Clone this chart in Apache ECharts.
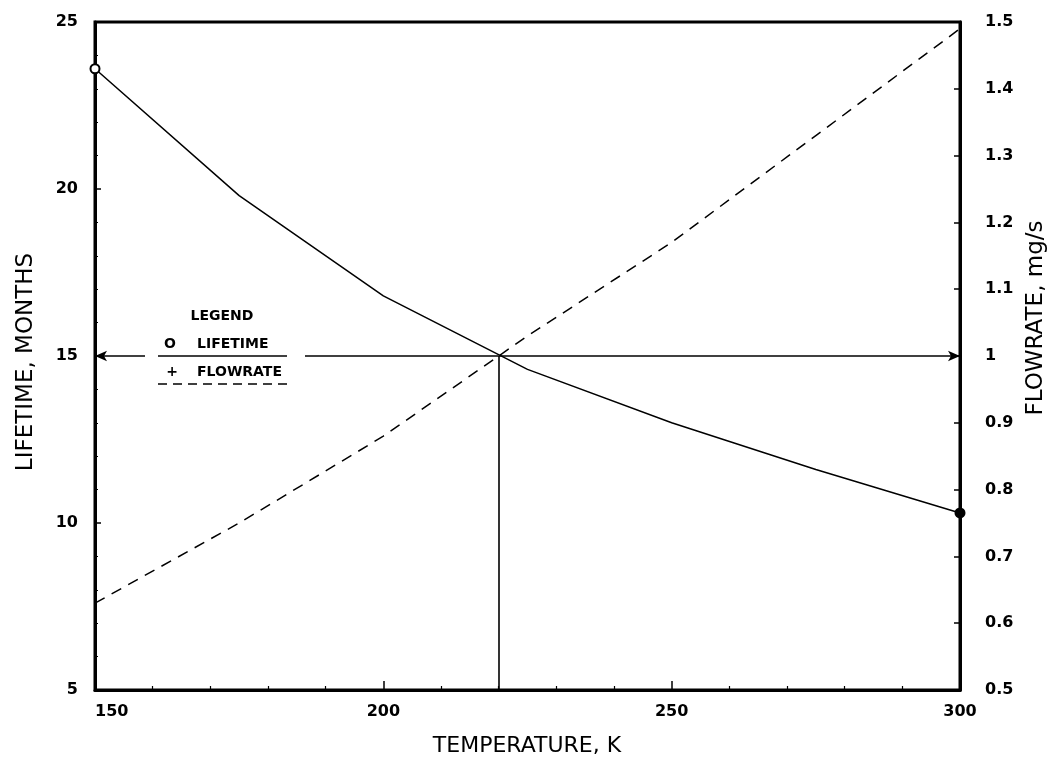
<!DOCTYPE html>
<html><head><meta charset="utf-8">
<script src="https://cdn.jsdelivr.net/npm/echarts/dist/echarts.min.js"></script>
<style>html,body{margin:0;padding:0;background:#fff}#c{width:1051px;height:760px}</style>
</head><body><div id="c"></div>
<script>
// ---- data ----
const temperature = [150, 175, 200, 225, 250, 275, 300];
const lifetime    = [23.6, 19.8, 16.8, 14.6, 13.0, 11.6, 10.3];
const flowrate    = [0.63, 0.75, 0.88, 1.03, 1.17, 1.33, 1.49];
const xTickLabels = [150, 200, 250, 300];
const leftTickLabels = [5, 10, 15, 20, 25];
const rightTickLabels = ['0.5','0.6','0.7','0.8','0.9','1','1.1','1.2','1.3','1.4','1.5'];
const designTemp = 220, designLife = 15, designFlow = 1.0;

const chart = echarts.init(document.getElementById('c'), null, {renderer: 'canvas'});
const labelFont = {fontFamily: '"DejaVu Sans", sans-serif', fontWeight: 'bold', fontSize: 16, color: '#000'};

const lifeData = temperature.map((t, i) => {
  const it = {value: [t, lifetime[i]]};
  if (i === 0) { it.symbol = 'circle'; it.symbolSize = 9; it.itemStyle = {color: '#fff', borderColor: '#000', borderWidth: 2}; }
  else if (i === temperature.length - 1) { it.symbol = 'circle'; it.symbolSize = 11; it.itemStyle = {color: '#000'}; }
  else { it.symbol = 'none'; }
  return it;
});

chart.setOption({
  animation: false,
  backgroundColor: '#fff',
  grid: {left: 95, right: 91, top: 22, bottom: 70, show: true, borderColor: '#000', borderWidth: 3, backgroundColor: 'transparent'},
  xAxis: {
    type: 'value', min: 150, max: 300, interval: 50,
    axisLine: {lineStyle: {color: '#000', width: 3}},
    axisTick: {inside: true, length: 9, lineStyle: {color: '#000', width: 1.5}},
    minorTick: {show: true, splitNumber: 5, length: 4, lineStyle: {color: '#000', width: 1.2}},
    splitLine: {show: false},
    axisLabel: Object.assign({margin: 14, alignMinLabel: 'left',
      formatter: v => xTickLabels.includes(v) ? String(v) : ''}, labelFont)
  },
  yAxis: [{
    type: 'value', min: 5, max: 25, interval: 5, position: 'left',
    axisLine: {lineStyle: {color: '#000', width: 3}},
    axisTick: {inside: true, length: 6, lineStyle: {color: '#000', width: 1.5}},
    minorTick: {show: true, splitNumber: 5, length: 3, lineStyle: {color: '#000', width: 1}},
    splitLine: {show: false},
    axisLabel: Object.assign({margin: 17,
      formatter: v => leftTickLabels.includes(v) ? String(v) : ''}, labelFont)
  }, {
    type: 'value', min: 0.5, max: 1.5, interval: 0.1, position: 'right',
    axisLine: {lineStyle: {color: '#000', width: 3}},
    axisTick: {inside: true, length: 6, lineStyle: {color: '#000', width: 1.5}},
    splitLine: {show: false},
    axisLabel: Object.assign({margin: 25, align: 'left',
      formatter: v => { const s = String(Math.round(v * 10) / 10); return rightTickLabels.includes(s) ? s : ''; }}, labelFont)
  }],
  series: [{
    name: 'LIFETIME', type: 'line', yAxisIndex: 0, silent: true,
    showSymbol: true, symbol: 'none',
    data: lifeData,
    lineStyle: {color: '#000', width: 1.5},
    z: 5,
    markLine: {
      silent: true, symbol: ['none', 'arrow'], symbolSize: [8, 12],
      label: {show: false},
      lineStyle: {color: '#000', width: 1.6, type: 'solid'},
      data: [
        [{coord: [designTemp, designLife]}, {coord: [150, designLife]}],
        [{coord: [designTemp, designLife]}, {coord: [300, designLife]}],
        [{coord: [designTemp, designLife]}, {coord: [designTemp, 5], symbol: 'none'}]
      ]
    }
  }, {
    name: 'FLOWRATE', type: 'line', yAxisIndex: 1, silent: true,
    symbol: 'none',
    data: temperature.map((t, i) => [t, flowrate[i]]),
    lineStyle: {color: '#000', width: 1.5, type: [11, 8]},
    z: 4
  }]
});

const p = chart.convertToPixel({xAxisIndex: 0, yAxisIndex: 0}, [designTemp, designLife]);
const y15 = p[1];
const legFont = 'bold 14px "DejaVu Sans", sans-serif';
const titleFont = '23px "DejaVu Sans", sans-serif';
chart.setOption({
  graphic: [
    {type: 'rect', z: 100, shape: {x: 145, y: y15 - 5, width: 160, height: 10}, style: {fill: '#fff'}},
    {type: 'line', z: 101, shape: {x1: 158, y1: y15, x2: 287, y2: y15}, style: {stroke: '#000', lineWidth: 1.5}},
    {type: 'line', z: 101, shape: {x1: 158, y1: y15 + 28, x2: 287, y2: y15 + 28}, style: {stroke: '#000', lineWidth: 1.5, lineDash: [9, 6]}},
    {type: 'text', z: 101, x: 222, y: y15 - 40, style: {text: 'LEGEND', font: legFont, fill: '#000', align: 'center', verticalAlign: 'middle'}},
    {type: 'text', z: 101, x: 170, y: y15 - 12, style: {text: 'O', font: legFont, fill: '#000', align: 'center', verticalAlign: 'middle'}},
    {type: 'text', z: 101, x: 197, y: y15 - 12, style: {text: 'LIFETIME', font: legFont, fill: '#000', align: 'left', verticalAlign: 'middle'}},
    {type: 'text', z: 101, x: 172, y: y15 + 16, style: {text: '+', font: legFont, fill: '#000', align: 'center', verticalAlign: 'middle'}},
    {type: 'text', z: 101, x: 197, y: y15 + 16, style: {text: 'FLOWRATE', font: legFont, fill: '#000', align: 'left', verticalAlign: 'middle'}},
    {type: 'text', z: 101, x: 527, y: 746, style: {text: 'TEMPERATURE, K', font: '22px "DejaVu Sans", sans-serif', fill: '#000', align: 'center', verticalAlign: 'middle'}},
    {type: 'text', z: 101, x: 26, y: 362, rotation: Math.PI / 2, style: {text: 'LIFETIME, MONTHS', font: titleFont, fill: '#000', align: 'center', verticalAlign: 'middle'}},
    {type: 'text', z: 101, x: 1036, y: 318, rotation: Math.PI / 2, style: {text: 'FLOWRATE, mg/s', font: titleFont, fill: '#000', align: 'center', verticalAlign: 'middle'}}
  ]
});
</script></body></html>
